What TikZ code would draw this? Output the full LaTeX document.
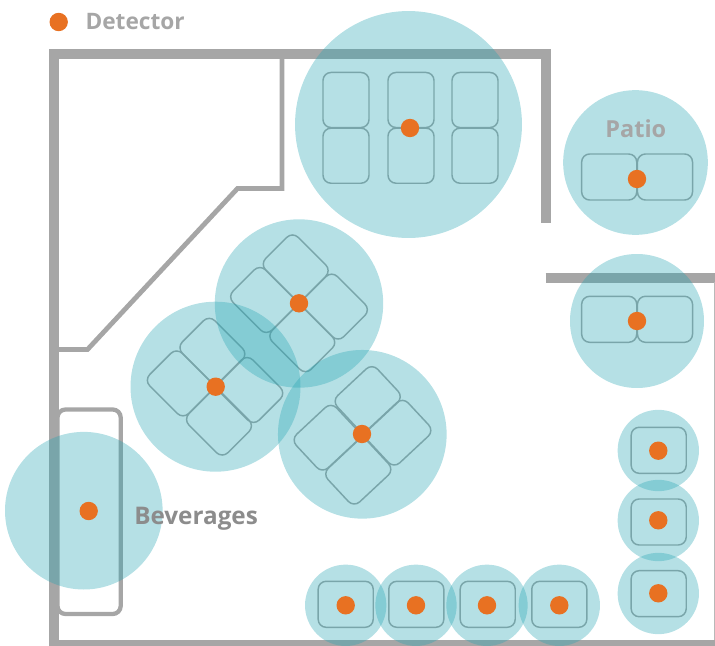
\documentclass[tikz,border=0pt]{standalone}
\usepackage{fontspec}
\setmainfont{Open Sans}
\definecolor{wallgray}{HTML}{A6A6A6}
\definecolor{zoneteal}{HTML}{25A4B2}
\definecolor{dotorange}{HTML}{E87122}

\begin{document}
\begin{tikzpicture}[
            x=0.75pt, y=-0.75pt,
            wall/.style={draw=wallgray, line width=7.5pt, line join=miter},
            innerwall/.style={draw=wallgray, line width=3.6pt, line join=miter},
            zone/.style={circle, fill=zoneteal, fill opacity=0.34, inner sep=0pt},
            detector/.style={circle, fill=dotorange, minimum size=13.8pt, inner sep=0pt},
            tablewide/.style={draw=wallgray, line width=1.1pt, rounded corners=6pt, minimum width=41.3pt, minimum height=34.5pt, inner sep=0pt},
            tabletall/.style={tablewide, minimum width=34.5pt, minimum height=41.3pt},
            label/.style={font=\fontsize{17pt}{20pt}\selectfont\bfseries, anchor=base west, inner sep=0pt}
        ]
            \useasboundingbox (0,0) rectangle (715,646);

            % walls
            \draw[wall] (546,222.7) -- (546,53.5) -- (54.3,53.5) -- (54.3,645) -- (715,645);
            \draw[wall] (545.7,277.7) -- (715,277.7);
            \draw[draw=wallgray!80, line width=1.1pt] (714.5,282) -- (714.5,640);
            \draw[innerwall] (282,58) -- (282,188.5) -- (237.5,188.5) -- (87.5,349.5) -- (59,349.5);
            \draw[draw=wallgray, line width=3.2pt, rounded corners=6pt] (57.5,409.5) rectangle (120.7,614);

            % tables, top group
            \node[tabletall] (top1) at (346,100) {};
            \node[tabletall] (top2) at (411,100) {};
            \node[tabletall] (top3) at (475,100) {};
            \node[tabletall] (top4) at (346,155.7) {};
            \node[tabletall] (top5) at (411,155.7) {};
            \node[tabletall] (top6) at (475,155.7) {};

            % tables, patio and the corner
            \node[tablewide] (patio1) at (609.2,177) {};
            \node[tablewide] (patio2) at (665,177) {};
            \node[tablewide] (corner1) at (609.2,319.3) {};
            \node[tablewide] (corner2) at (665,319.3) {};

            % tables, turned groups
            \node[tablewide, rotate=-45] (midA1) at (295.7,267.4) {};
            \node[tablewide, rotate=-45] (midA2) at (263.1,300) {};
            \node[tablewide, rotate=-45] (midA3) at (334.9,306.6) {};
            \node[tablewide, rotate=-45] (midA4) at (302.3,339.2) {};
            \node[tablewide, rotate=-45] (midB1) at (212.4,350.8) {};
            \node[tablewide, rotate=-45] (midB2) at (179.8,383.4) {};
            \node[tablewide, rotate=-45] (midB3) at (250.3,390) {};
            \node[tablewide, rotate=-45] (midB4) at (219,422.6) {};
            \node[tablewide, rotate=43] (midC1) at (367.7,399) {};
            \node[tablewide, rotate=43] (midC2) at (398.3,432.7) {};
            \node[tablewide, rotate=43] (midC3) at (326.7,437.7) {};
            \node[tablewide, rotate=43] (midC4) at (358.3,471.7) {};

            % tables, bottom row and right column
            \node[tablewide] (row1) at (345.7,604.3) {};
            \node[tablewide] (row2) at (416.3,604.3) {};
            \node[tablewide] (row3) at (487.7,604.3) {};
            \node[tablewide] (row4) at (559.3,604.3) {};
            \node[tablewide] (col1) at (658.7,450.3) {};
            \node[tablewide] (col2) at (658.7,522) {};
            \node[tablewide] (col3) at (658.7,593.7) {};

            % coverage zones
            \node[zone, minimum size=170.2pt] (zoneTop) at (408.5,124.5) {};
            \node[zone, minimum size=108.5pt] (zonePatio) at (635.5,162.5) {};
            \node[zone, minimum size=100.5pt] (zoneCorner) at (637,321) {};
            \node[zone, minimum size=126.3pt] (zoneA) at (299,303.5) {};
            \node[zone, minimum size=127.5pt] (zoneB) at (215.5,386.7) {};
            \node[zone, minimum size=126.5pt] (zoneC) at (362.3,434.3) {};
            \node[zone, minimum size=118.2pt] (zoneBev) at (83.8,510.7) {};
            \node[zone, minimum size=61pt] (zoneRow1) at (345.7,605.3) {};
            \node[zone, minimum size=61pt] (zoneRow2) at (416,605.3) {};
            \node[zone, minimum size=61pt] (zoneRow3) at (487,605.3) {};
            \node[zone, minimum size=61pt] (zoneRow4) at (559.3,605.3) {};
            \node[zone, minimum size=61pt] (zoneCol1) at (658.3,450.5) {};
            \node[zone, minimum size=61pt] (zoneCol2) at (658.3,520.5) {};
            \node[zone, minimum size=61pt] (zoneCol3) at (658.3,593.5) {};

            % detectors
            \node[detector] (legendDot) at (58.7,22) {};
            \node[detector] (detTop) at (410,128) {};
            \node[detector] (detPatio) at (637,179) {};
            \node[detector] (detCorner) at (637,321) {};
            \node[detector] (detA) at (299,303.3) {};
            \node[detector] (detB) at (215.7,386.7) {};
            \node[detector] (detC) at (362,434) {};
            \node[detector] (detBev) at (88.7,511) {};
            \node[detector] (detRow1) at (345.7,605.3) {};
            \node[detector] (detRow2) at (416,605.3) {};
            \node[detector] (detRow3) at (487,605.3) {};
            \node[detector] (detRow4) at (559.3,605.3) {};
            \node[detector] (detCol1) at (658.3,450.7) {};
            \node[detector] (detCol2) at (658.3,520.3) {};
            \node[detector] (detCol3) at (658.3,593.3) {};

            % labels
            \node[label, text=wallgray] (legendText) at (85.3,29.5) {Detector};
            \node[label, text=wallgray, font=\fontsize{17.6pt}{20pt}\selectfont\bfseries] (patioText) at (605.2,137.3) {Patio};
            \node[label, text=black!45, font=\fontsize{18.2pt}{20pt}\selectfont\bfseries] (bevText) at (134,524) {Beverages};
        \end{tikzpicture}
\end{document}
